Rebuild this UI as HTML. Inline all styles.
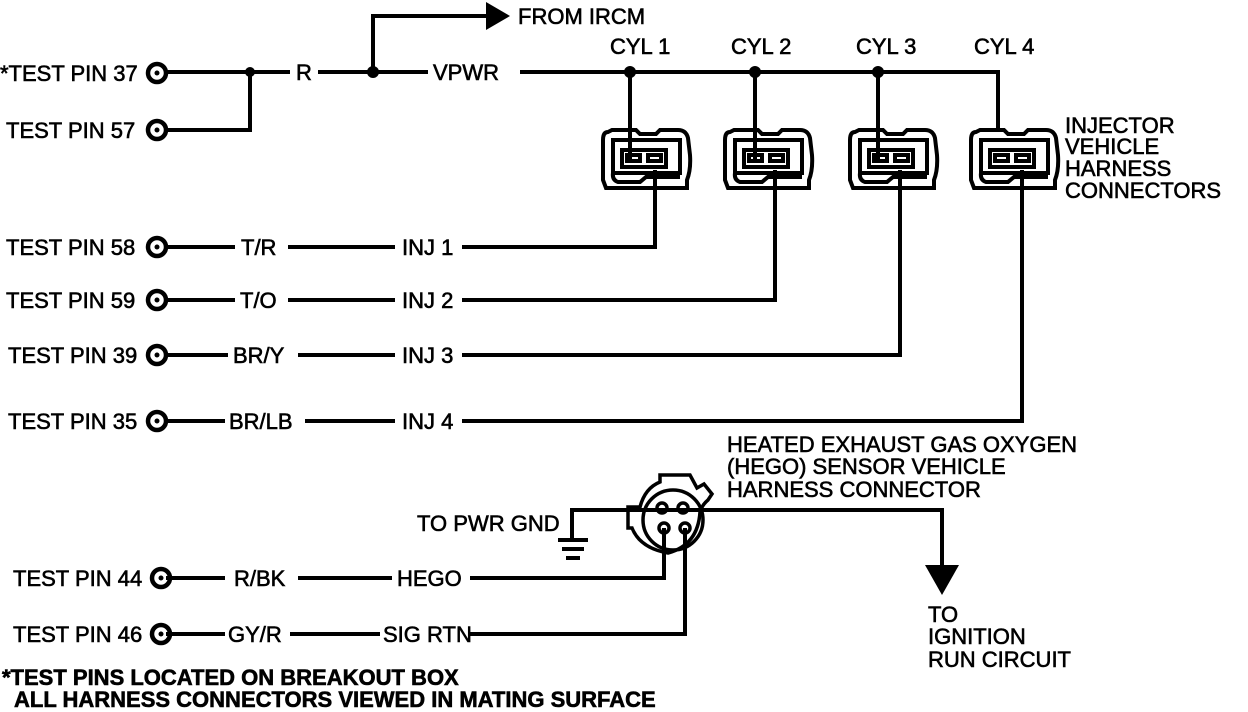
<!DOCTYPE html>
<html><head><meta charset="utf-8"><style>
html,body{margin:0;padding:0;background:#fff;}
svg{display:block;}
text{font-family:"Liberation Sans",Arial,sans-serif;font-size:22px;fill:#000;stroke:#000;stroke-width:0.6;}
</style></head><body>
<svg width="1248" height="712" viewBox="0 0 1248 712" xmlns="http://www.w3.org/2000/svg">
<g fill="none" stroke="#000" stroke-width="4">
<path d="M166 72 H290 M318 72 H428 M520 72 H998 V130"/>
<path d="M166 130 H250 V72"/>
<path d="M373 72 V16 H488"/>
<path d="M630 72 V160 M755 72 V160 M878 72 V160"/>
<path d="M166 247 H235 M288 247 H395 M462 247 H655 V170"/>
<path d="M166 300 H235 M288 300 H395 M462 300 H775 V170"/>
<path d="M166 355 H228 M298 355 H395 M462 355 H900 V170"/>
<path d="M166 421 H225 M305 421 H395 M462 421 H1022 V170"/>
<path d="M166 578 H225 M298 578 H392 M470 578 H664 V528"/>
<path d="M166 634 H225 M290 634 H380 M468 634 H685 V528"/>
<path d="M572 538 V510 H942 V570"/>
</g>
<g stroke="#000" stroke-width="4">
<line x1="558" y1="540" x2="588" y2="540"/>
<line x1="562" y1="549" x2="584" y2="549"/>
<line x1="566" y1="558" x2="580" y2="558"/>
</g>
<polygon points="486,2 510,16 486,30" fill="#000"/>
<polygon points="925,565 959,565 942,595" fill="#000"/>
<g fill="#000">
<circle cx="250" cy="72" r="5"/><circle cx="373" cy="72" r="6"/>
<circle cx="630" cy="72" r="6"/><circle cx="755" cy="72" r="6"/><circle cx="878" cy="72" r="6"/>
</g>
<g fill="none" stroke="#000" stroke-width="4.5">
<circle cx="157" cy="73" r="9"/><circle cx="157" cy="130" r="9"/>
<circle cx="157" cy="247" r="9"/><circle cx="157" cy="300" r="9"/>
<circle cx="157" cy="355" r="9"/><circle cx="157" cy="421" r="9"/>
<circle cx="161" cy="578" r="9"/><circle cx="161" cy="634" r="9"/>
</g>
<g fill="#000">
<circle cx="157" cy="73" r="2.5"/><circle cx="157" cy="130" r="2.5"/>
<circle cx="157" cy="247" r="2.5"/><circle cx="157" cy="300" r="2.5"/>
<circle cx="157" cy="355" r="2.5"/><circle cx="157" cy="421" r="2.5"/>
<circle cx="161" cy="578" r="2.5"/><circle cx="161" cy="634" r="2.5"/>
</g>
<g fill="none" stroke="#000" stroke-width="4">
<g id="c1">
<path d="M608 132 Q603 132 603 140 V180 L606 188 H687 V180 Q691 170 690 155 L688 138 Q686 130 678 130 H660 L656 134 H640 L636 130 H612 Z"/>
<rect x="613" y="140" width="67" height="33"/>
<path d="M613 173 Q612 180 618 182 H640 L646 177 H680"/>
<rect x="622" y="150" width="44" height="17"/>
<rect x="627" y="155" width="13" height="6"/><rect x="648" y="155" width="13" height="6"/>
</g>
<use href="#c1" x="122"/>
<use href="#c1" x="247"/>
<use href="#c1" x="368"/>
</g>
<g fill="none" stroke="#000" stroke-width="3.5">
<path d="M660 475 H690 L697 488 L704 484 L712 494 L708 500 Q702 505 700 512 Q698 545 668 553 Q640 548 632 528 H628 V507 H640 Q645 488 660 482 Z"/>
<circle cx="673" cy="520" r="30"/>
<circle cx="662" cy="508" r="5"/><circle cx="683" cy="508" r="5"/>
<circle cx="664" cy="528" r="5"/><circle cx="685" cy="528" r="5"/>
</g>
<text x="518" y="24">FROM IRCM</text>
<text x="610" y="54">CYL 1</text>
<text x="731" y="54">CYL 2</text>
<text x="856" y="54">CYL 3</text>
<text x="974" y="54">CYL 4</text>
<text x="296" y="80">R</text>
<text x="433" y="80">VPWR</text>
<text x="0" y="81">*TEST PIN 37</text>
<text x="6" y="138">TEST PIN 57</text>
<text x="6" y="255">TEST PIN 58</text>
<text x="6" y="308">TEST PIN 59</text>
<text x="8" y="363">TEST PIN 39</text>
<text x="8" y="429">TEST PIN 35</text>
<text x="13" y="586">TEST PIN 44</text>
<text x="13" y="642">TEST PIN 46</text>
<text x="241" y="255">T/R</text><text x="402" y="255">INJ 1</text>
<text x="240" y="308">T/O</text><text x="402" y="308">INJ 2</text>
<text x="233" y="363">BR/Y</text><text x="402" y="363">INJ 3</text>
<text x="229" y="429">BR/LB</text><text x="402" y="429">INJ 4</text>
<text x="234" y="586">R/BK</text><text x="397" y="586">HEGO</text>
<text x="228" y="642">GY/R</text><text x="383" y="642">SIG RTN</text>
<text x="1065" y="133">INJECTOR</text>
<text x="1065" y="154">VEHICLE</text>
<text x="1065" y="176">HARNESS</text>
<text x="1065" y="198">CONNECTORS</text>
<text x="727" y="452">HEATED EXHAUST GAS OXYGEN</text>
<text x="727" y="474">(HEGO) SENSOR VEHICLE</text>
<text x="727" y="497">HARNESS CONNECTOR</text>
<text x="417" y="531">TO PWR GND</text>
<text x="928" y="622">TO</text>
<text x="928" y="644">IGNITION</text>
<text x="928" y="667">RUN CIRCUIT</text>
<text x="2" y="685" style="font-weight:bold">*TEST PINS LOCATED ON BREAKOUT BOX</text>
<text x="14" y="707" style="font-weight:bold">ALL HARNESS CONNECTORS VIEWED IN MATING SURFACE</text>
</svg>
</body></html>
